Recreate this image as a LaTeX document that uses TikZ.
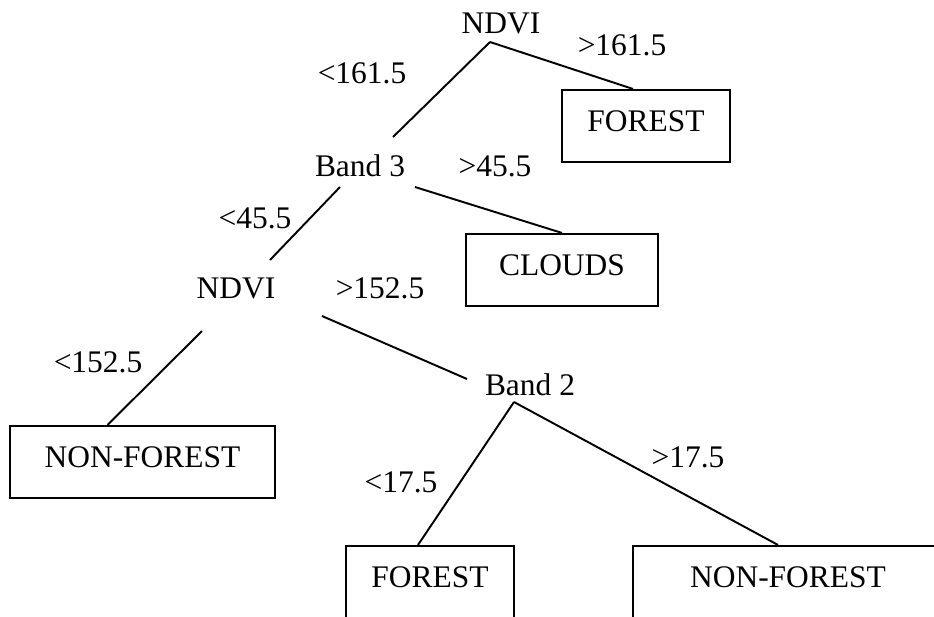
\documentclass[tikz,border=0pt]{standalone}
\usepackage{fontspec}
\setmainfont{Liberation Serif}
\usepackage{tikz}
\tikzset{
  leafbox/.style={draw,line width=1.2pt,inner sep=0pt,minimum height=1.44cm,
    text height=0.41cm,text depth=0.19cm,font=\fontsize{17.9}{21}\selectfont},
  splitlabel/.style={anchor=base,inner sep=0pt,font=\fontsize{17.9}{21}\selectfont},
  thresholdlabel/.style={anchor=base,inner sep=0pt,font=\fontsize{17.9}{21}\selectfont},
  branchline/.style={line width=1.1pt}
}
\begin{document}
\begin{tikzpicture}[x=0.02cm,y=-0.02cm]
  \useasboundingbox (0,0) rectangle (934,616);
  \clip (0,0) rectangle (934,616);
  % splits
  \node[splitlabel] (ndvitop) at (501,33) {NDVI};
  \node[splitlabel] (bandthree) at (360,176) {Band 3};
  \node[splitlabel] (ndvimid) at (236,298) {NDVI};
  \node[splitlabel] (bandtwo) at (530,395) {Band 2};
  % leaves
  \node[leafbox,minimum width=3.36cm] (foresttop) at (646,126) {FOREST};
  \node[leafbox,minimum width=3.84cm] (clouds) at (562,270) {CLOUDS};
  \node[leafbox,minimum width=5.3cm] (nonforestleft) at (142.5,462) {NON-FOREST};
  \node[leafbox,minimum width=3.36cm] (forestbottom) at (430,582) {FOREST};
  \node[leafbox,minimum width=6.2cm] (nonforestright) at (788,582) {NON-FOREST};
  % thresholds
  \node[thresholdlabel] (ltndvitop) at (362,83) {<161.5};
  \node[thresholdlabel] (gtndvitop) at (622,55) {>161.5};
  \node[thresholdlabel] (ltbandthree) at (255,228) {<45.5};
  \node[thresholdlabel] (gtbandthree) at (495,176) {>45.5};
  \node[thresholdlabel] (ltndvimid) at (98,372) {<152.5};
  \node[thresholdlabel] (gtndvimid) at (380,298) {>152.5};
  \node[thresholdlabel] (ltbandtwo) at (401,492) {<17.5};
  \node[thresholdlabel] (gtbandtwo) at (688,467) {>17.5};
  % branches
  \draw[branchline] ([shift={(-11,9)}]ndvitop.base) -- ([shift={(33,-39)}]bandthree.base);
  \draw[branchline] ([shift={(-11,9)}]ndvitop.base) -- ([xshift=-0.26cm]foresttop.north);
  \draw[branchline] ([shift={(-20,11)}]bandthree.base) -- ([shift={(34,-38)}]ndvimid.base);
  \draw[branchline] ([shift={(55,11)}]bandthree.base) -- (clouds.north);
  \draw[branchline] ([shift={(-34,33)}]ndvimid.base) -- ([xshift=-0.7cm]nonforestleft.north);
  \draw[branchline] ([shift={(86,18)}]ndvimid.base) -- ([shift={(-63,-16)}]bandtwo.base);
  \draw[branchline] ([shift={(-16,7)}]bandtwo.base) -- ([xshift=-0.24cm]forestbottom.north);
  \draw[branchline] ([shift={(-16,7)}]bandtwo.base) -- ([xshift=-0.2cm]nonforestright.north);
\end{tikzpicture}
\end{document}
